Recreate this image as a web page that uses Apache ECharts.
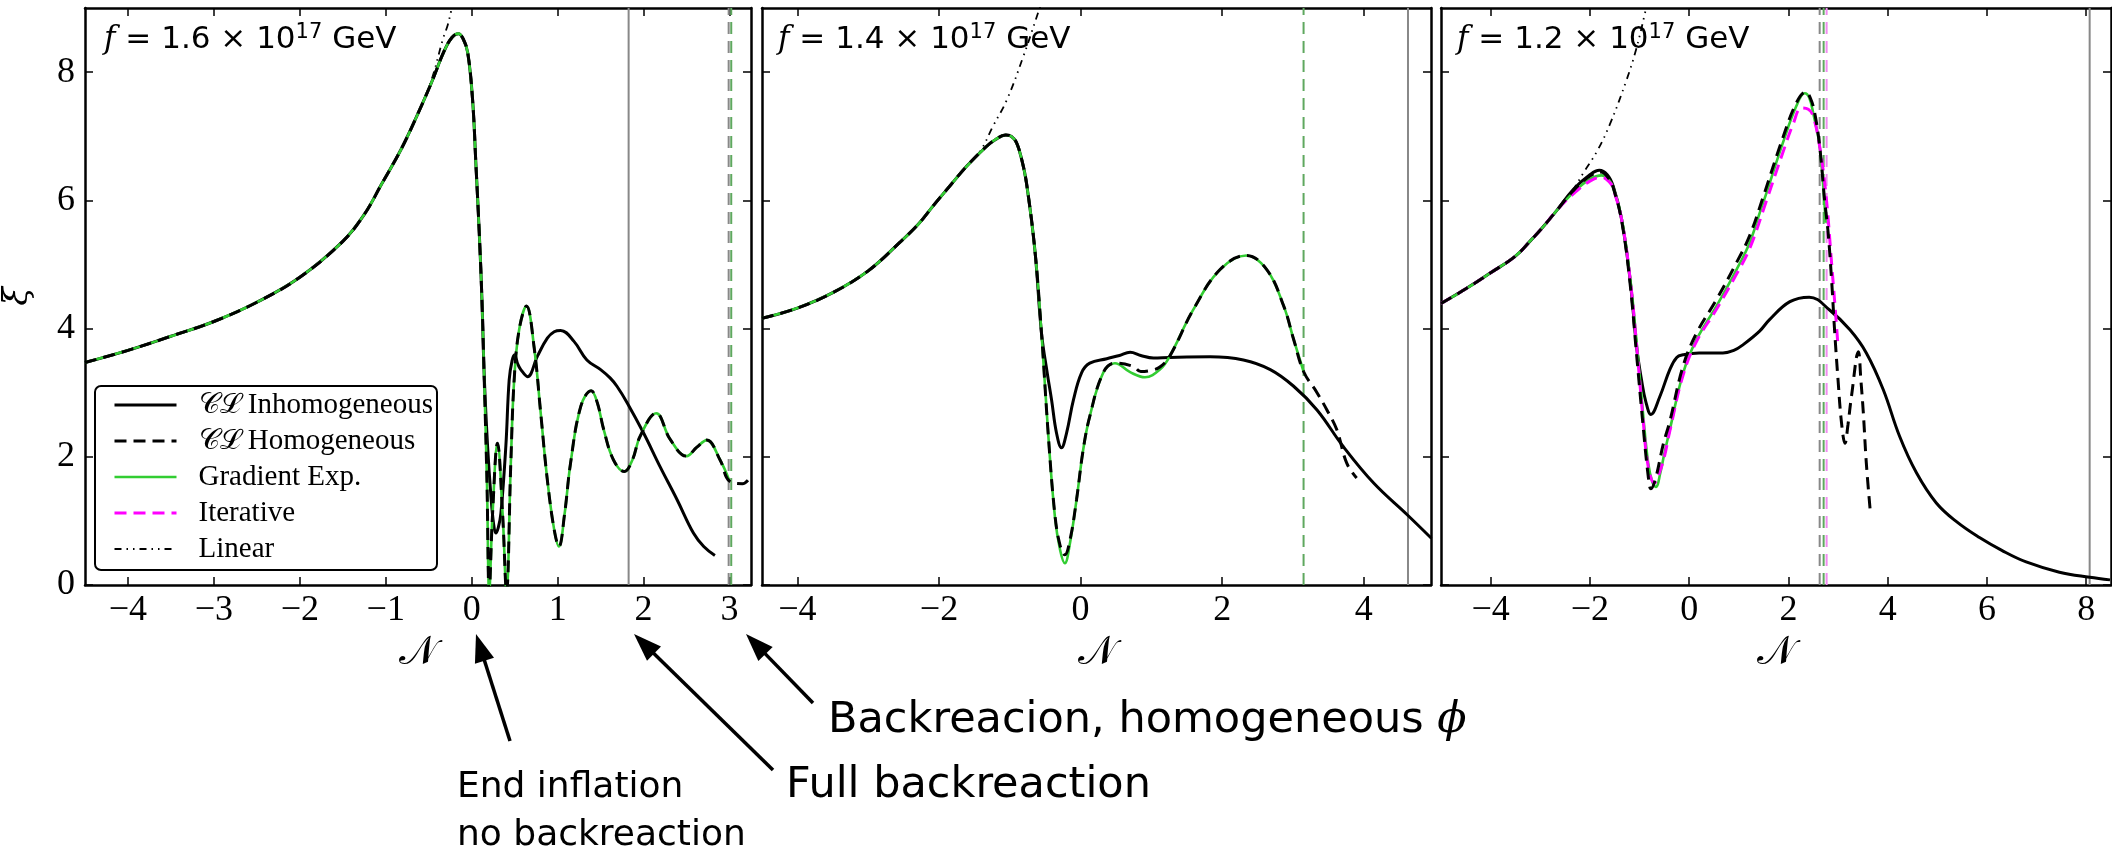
<!DOCTYPE html>
<html><head><meta charset="utf-8">
<script src="https://cdn.jsdelivr.net/npm/echarts@6/dist/echarts.min.js"></script>
<style>html,body{margin:0;padding:0;background:#fff}#c{width:2112px;height:851px}</style>
</head><body><div id="c"></div>
<script>
// ---------- axis setup ----------
const xRanges = [[-4.5, 3.25], [-4.5, 4.95], [-5, 8.5]];
const xTicks = [[-4,-3,-2,-1,0,1,2,3], [-4,-2,0,2,4], [-4,-2,0,2,4,6,8]];
const yTicks = [0,2,4,6,8];
const yRange = [0, 9];
const panelTitles = ['1.6', '1.4', '1.2'];
const seriesNames = ['𝒞ℒ Inhomogeneous', '𝒞ℒ Homogeneous', 'Gradient Exp.', 'Iterative', 'Linear'];

// ---------- panel 1 : f = 1.6e17 GeV ----------
const p1Common = [[-4.5,3.47],[-4.0,3.66],[-3.5,3.88],[-3.0,4.11],[-2.5,4.41],[-2.0,4.80],[-1.5,5.36],[-1.25,5.78],[-1.05,6.25],[-0.82,6.80],[-0.63,7.34],[-0.47,7.83],[-0.32,8.33],[-0.23,8.54],[-0.155,8.60],[-0.1,8.52],[-0.046,8.30],[0.01,7.57],[0.05,6.53],[0.088,5.49],[0.119,4.45]];
const p1InhomTail = [[0.146,3.25],[0.185,2.16],[0.224,1.38],[0.255,0.95],[0.28,0.81],[0.31,0.9],[0.34,1.12],[0.397,2.16],[0.436,3.20],[0.47,3.5],[0.50,3.59],[0.535,3.45],[0.571,3.36],[0.65,3.25],[0.765,3.57],[0.88,3.85],[0.96,3.95],[1.035,3.97],[1.19,3.80],[1.34,3.51],[1.50,3.36],[1.61,3.23],[1.69,3.10],[1.81,2.84],[2.0,2.37],[2.19,1.85],[2.39,1.33],[2.58,0.81],[2.70,0.6],[2.83,0.46]];
const p1GradTail = [[0.146,3.20],[0.177,1.64],[0.204,-0.1],[0.243,1.12],[0.30,2.21],[0.359,1.12],[0.405,-0.1],[0.455,1.90],[0.494,3.20],[0.552,3.98],[0.637,4.35],[0.725,3.72],[0.803,2.68],[0.88,1.64],[0.96,0.86],[1.015,0.60],[1.08,1.1],[1.15,1.90],[1.27,2.79],[1.39,3.03],[1.46,2.85],[1.537,2.42],[1.65,1.95],[1.776,1.77],[1.87,1.95],[1.96,2.32],[2.147,2.68],[2.31,2.27],[2.50,2.01],[2.62,2.15],[2.735,2.26],[2.89,1.95],[3.00,1.62]];
const p1HomogExtra = [[3.15,1.58],[3.25,1.70]];
const p1LinearTail = [[-0.47,7.87],[-0.336,8.51],[-0.278,8.74],[-0.24,8.95],[-0.18,9.3]];
const p1VSolid = [1.826], p1VGray = [2.99], p1VGreen = [3.02], p1VMagenta = [];

// ---------- panel 2 : f = 1.4e17 GeV ----------
const p2Common = [[-4.5,4.16],[-4.0,4.32],[-3.5,4.56],[-3.0,4.90],[-2.557,5.34],[-2.29,5.63],[-2.085,5.91],[-1.85,6.22],[-1.61,6.53],[-1.33,6.84],[-1.2,6.95],[-1.057,7.02],[-0.98,7.0],[-0.905,6.90],[-0.83,6.63],[-0.764,6.27],[-0.646,5.23],[-0.552,3.93]];
const p2InhomTail = [[-0.47,3.3],[-0.41,2.89],[-0.34,2.37],[-0.27,2.14],[-0.198,2.37],[-0.10,2.89],[0.014,3.31],[0.13,3.46],[0.37,3.53],[0.55,3.58],[0.70,3.63],[0.85,3.58],[1.03,3.54],[1.26,3.55],[1.83,3.56],[2.30,3.51],[2.68,3.36],[3.01,3.10],[3.34,2.73],[3.71,2.16],[4.14,1.59],[4.61,1.10],[4.955,0.73]];
const p2GradTail = [[-0.458,2.37],[-0.363,1.07],[-0.29,0.55],[-0.222,0.34],[-0.15,0.65],[-0.057,1.33],[0.037,2.11],[0.13,2.63],[0.32,3.31],[0.485,3.46],[0.7,3.32],[0.91,3.24],[1.12,3.36],[1.26,3.57],[1.59,4.29],[1.97,4.92],[2.34,5.14],[2.63,4.92],[2.87,4.35],[3.01,3.83],[3.15,3.33]];
const p2HomogTail = [[-0.458,2.37],[-0.363,1.1],[-0.29,0.62],[-0.222,0.47],[-0.15,0.7],[-0.057,1.33],[0.037,2.11],[0.13,2.63],[0.32,3.31],[0.485,3.46],[0.745,3.41],[0.85,3.33],[1.0,3.35],[1.12,3.40],[1.26,3.57],[1.59,4.29],[1.97,4.92],[2.34,5.14],[2.63,4.92],[2.87,4.35],[3.01,3.83],[3.15,3.33],[3.34,3.0],[3.48,2.73],[3.62,2.42],[3.76,1.90],[3.90,1.67]];
const p2LinearTail = [[-1.42,6.76],[-1.24,7.15],[-1.04,7.57],[-0.81,8.24],[-0.62,8.86],[-0.52,9.2]];
const p2VSolid = [4.625], p2VGray = [], p2VGreen = [3.15], p2VMagenta = [];

// ---------- panel 3 : f = 1.2e17 GeV ----------
const p3Common = [[-5.0,4.39],[-4.5,4.62],[-4.0,4.87],[-3.5,5.13],[-3.21,5.36],[-2.95,5.58],[-2.67,5.84]];
const p3InhomTail = [[-2.335,6.17],[-2.0,6.40],[-1.81,6.47],[-1.65,6.40],[-1.53,6.22],[-1.36,5.70],[-1.19,4.76],[-1.06,3.72],[-0.96,3.20],[-0.87,2.85],[-0.77,2.66],[-0.59,2.94],[-0.39,3.36],[-0.25,3.55],[-0.12,3.59],[0.2,3.62],[0.68,3.62],[0.9,3.66],[1.09,3.75],[1.42,3.96],[1.62,4.14],[2.03,4.42],[2.42,4.49],[2.83,4.29],[3.24,3.98],[3.57,3.62],[3.91,3.05],[4.24,2.32],[4.58,1.75],[4.98,1.28],[5.4,0.98],[5.85,0.74],[6.3,0.54],[6.79,0.36],[7.46,0.2],[8.07,0.12],[8.48,0.08]];
const p3GradTail = [[-2.335,6.12],[-2.0,6.33],[-1.76,6.39],[-1.6,6.3],[-1.53,6.2],[-1.36,5.72],[-1.19,4.8],[-1.06,3.8],[-0.93,2.68],[-0.825,1.90],[-0.74,1.6],[-0.67,1.53],[-0.58,1.75],[-0.5,2.05],[-0.39,2.42],[-0.12,3.31],[0.15,3.83],[0.55,4.35],[0.955,4.92],[1.22,5.34],[1.42,5.80],[1.56,6.12],[1.89,6.90],[2.16,7.47],[2.33,7.67],[2.42,7.6],[2.50,7.36],[2.63,6.84],[2.75,5.65]];
const p3HomogTail = [[-2.335,6.15],[-2.0,6.38],[-1.78,6.44],[-1.6,6.32],[-1.53,6.2],[-1.36,5.68],[-1.19,4.7],[-1.06,3.6],[-0.93,2.5],[-0.825,1.7],[-0.77,1.50],[-0.68,1.65],[-0.52,2.2],[-0.39,2.55],[-0.12,3.42],[0.15,3.93],[0.55,4.45],[0.955,5.03],[1.22,5.45],[1.49,6.05],[1.89,6.98],[2.16,7.52],[2.35,7.69],[2.44,7.6],[2.53,7.36],[2.63,6.84],[2.73,6.0],[2.80,5.5],[2.87,4.76],[2.93,3.98],[3.0,3.20],[3.07,2.53],[3.14,2.21],[3.2,2.5],[3.27,2.94],[3.41,3.64],[3.46,3.2],[3.51,2.68],[3.57,1.90],[3.65,1.15]];
const p3IterTail = [[-2.335,6.1],[-2.0,6.30],[-1.76,6.36],[-1.6,6.28],[-1.53,6.18],[-1.36,5.7],[-1.19,4.78],[-1.06,3.75],[-0.93,2.6],[-0.825,1.85],[-0.7,1.59],[-0.6,1.75],[-0.5,2.0],[-0.39,2.4],[-0.12,3.28],[0.15,3.8],[0.55,4.3],[0.955,4.85],[1.22,5.25],[1.56,6.0],[1.89,6.75],[2.1,7.2],[2.26,7.44],[2.40,7.42],[2.5,7.31],[2.63,6.84],[2.76,6.06],[2.87,5.02],[2.95,4.24],[3.0,3.72]];
const p3LinearTail = [[-2.335,6.17],[-2.13,6.43],[-1.86,6.76],[-1.60,7.18],[-1.26,7.88],[-1.07,8.35],[-0.89,8.92],[-0.83,9.15]];
const p3VSolid = [8.07], p3VGray = [2.63], p3VGreen = [2.71], p3VMagenta = [2.77];

// ---------- styles ----------
const styleInhom = {color: '#000', width: 3};
const styleHomog = {color: '#000', width: 3, type: [12, 7]};
const styleGrad = {color: '#32cd32', width: 2.6};
const styleIter = {color: '#ff00ff', width: 3, type: [12, 7]};
const styleLinear = {color: '#000', width: 1.8, type: [7, 5, 1.5, 5, 1.5, 5]};
const legendStyles = [styleInhom, styleHomog, styleGrad, styleIter, styleLinear];

// ---------- assemble ----------
const upTo = (arr, xMax) => arr.filter(d => d[0] <= xMax);
const panels = [
  {inhom: p1Common.concat(p1InhomTail), homog: p1Common.concat(p1GradTail, p1HomogExtra), grad: p1Common.concat(p1GradTail), iter: null,
   linear: upTo(p1Common, -0.63).concat(p1LinearTail), vSolid: p1VSolid, vGray: p1VGray, vGreen: p1VGreen, vMag: p1VMagenta},
  {inhom: p2Common.concat(p2InhomTail), homog: p2Common.concat(p2HomogTail), grad: p2Common.concat(p2GradTail), iter: null,
   linear: upTo(p2Common, -1.61).concat(p2LinearTail), vSolid: p2VSolid, vGray: p2VGray, vGreen: p2VGreen, vMag: p2VMagenta},
  {inhom: p3Common.concat(p3InhomTail), homog: p3Common.concat(p3HomogTail), grad: p3Common.concat(p3GradTail), iter: p3Common.concat(p3IterTail),
   linear: p3Common.concat(p3LinearTail), vSolid: p3VSolid, vGray: p3VGray, vGreen: p3VGreen, vMag: p3VMagenta}
];

const gridBoxes = [{left: 82, width: 669}, {left: 762, width: 669}, {left: 1441, width: 670}];
const TOP = 8, HEIGHT = 577;
const frame = {show: true, onZero: false, lineStyle: {color: '#000', width: 2.5}};
const tickStyle = (vals) => ({show: true, inside: true, length: 8, customValues: vals, lineStyle: {color: '#000', width: 1.5}});
const fmt = v => String(v).replace('-', '\u2212');
const tickFont = {fontFamily: 'Liberation Serif', fontSize: 36, color: '#000'};

const grid = [], xAxis = [], yAxis = [], series = [];
panels.forEach((P, p) => {
  grid.push({left: gridBoxes[p].left, width: gridBoxes[p].width, top: TOP, height: HEIGHT, containLabel: false});
  xAxis.push({gridIndex: p, type: 'value', min: xRanges[p][0], max: xRanges[p][1], position: 'bottom',
    axisLine: frame, axisTick: tickStyle(xTicks[p]), splitLine: {show: false},
    axisLabel: Object.assign({show: true, customValues: xTicks[p], formatter: fmt, margin: 8}, tickFont),
    name: '𝒩', nameLocation: 'middle', nameGap: 64,
    nameTextStyle: {fontFamily: 'DejaVu Serif', fontSize: 40, color: '#000', verticalAlign: 'middle'}});
  xAxis.push({gridIndex: p, type: 'value', min: xRanges[p][0], max: xRanges[p][1], position: 'top',
    axisLine: frame, axisTick: tickStyle(xTicks[p]), splitLine: {show: false}, axisLabel: {show: false}});
  yAxis.push(Object.assign({gridIndex: p, type: 'value', min: yRange[0], max: yRange[1], position: 'left',
    axisLine: frame, axisTick: tickStyle(yTicks), splitLine: {show: false},
    axisLabel: Object.assign({show: p === 0, customValues: yTicks, formatter: fmt, margin: 10}, tickFont)},
    p === 0 ? {name: 'ξ', nameLocation: 'middle', nameGap: 50, nameRotate: 90,
      nameTextStyle: {fontFamily: 'DejaVu Serif', fontStyle: 'italic', fontSize: 34, color: '#000'}} : {}));
  yAxis.push({gridIndex: p, type: 'value', min: yRange[0], max: yRange[1], position: 'right',
    axisLine: frame, axisTick: tickStyle(yTicks), splitLine: {show: false}, axisLabel: {show: false}});

  const base = {type: 'line', xAxisIndex: 2 * p, yAxisIndex: 2 * p, symbol: 'none', showSymbol: false,
    animation: false, silent: true, clip: true};
  const vline = (x, style) => Object.assign({}, base, {name: 'v', data: [[x, yRange[0]], [x, yRange[1]]], lineStyle: style, z: 1});
  P.vSolid.forEach(x => series.push(vline(x, {color: '#888', width: 2})));
  P.vGray.forEach(x => series.push(vline(x, {color: '#888', width: 2, type: [12, 7]})));
  P.vGreen.forEach(x => series.push(vline(x, {color: '#5fa85f', width: 2, type: [12, 7]})));
  P.vMag.forEach(x => series.push(vline(x, {color: '#f08cf0', width: 2, type: [12, 7]})));

  const curve = (name, data, style, z) => Object.assign({}, base, {name, data, smooth: 0.4, lineStyle: style, itemStyle: {color: style.color}, z});
  series.push(curve(seriesNames[4], P.linear, styleLinear, 2));
  series.push(curve(seriesNames[0], P.inhom, styleInhom, 3));
  series.push(curve(seriesNames[2], P.grad, styleGrad, 4));
  if (P.iter) series.push(curve(seriesNames[3], P.iter, styleIter, 5));
  series.push(curve(seriesNames[1], P.homog, styleHomog, 6));
});

// ---------- annotations ----------
function arrow(tail, tip) {
  const dx = tip[0] - tail[0], dy = tip[1] - tail[1], L = Math.hypot(dx, dy), ux = dx / L, uy = dy / L;
  const hl = 28, hw = 10, b = [tip[0] - ux * hl, tip[1] - uy * hl];
  return [
    {type: 'line', shape: {x1: tail[0], y1: tail[1], x2: b[0] + ux * 2, y2: b[1] + uy * 2}, style: {stroke: '#000', lineWidth: 3.5}},
    {type: 'polygon', shape: {points: [tip, [b[0] - uy * hw, b[1] + ux * hw], [b[0] + uy * hw, b[1] - ux * hw]]}, style: {fill: '#000'}}
  ];
}
const sans = '"DejaVu Sans"';
const titleX = [104, 778, 1457];
const graphic = [];
titleX.forEach((x, i) => graphic.push({type: 'text', x: x, y: 40, z: 100,
  style: {text: '{f|f} = ' + panelTitles[i] + ' × 10{s|17} GeV', font: '31px ' + sans, fill: '#000', verticalAlign: 'middle',
    lineHeight: 36,
    rich: {f: {fontFamily: 'DejaVu Serif', fontStyle: 'italic', fontSize: 31, lineHeight: 36},
           s: {fontFamily: 'DejaVu Sans', fontSize: 21, lineHeight: 21, verticalAlign: 'top'}}}}));
const annot = [
  {t: 'End inflation', x: 457, y: 788, s: 36},
  {t: 'no backreaction', x: 457, y: 836, s: 36},
  {t: 'Full backreaction', x: 786, y: 786, s: 43},
  {t: 'Backreacion, homogeneous {p|ϕ}', x: 828, y: 721, s: 43}
];
annot.forEach(a => graphic.push({type: 'text', x: a.x, y: a.y,
  style: {text: a.t, font: a.s + 'px ' + sans, fill: '#000', verticalAlign: 'middle',
    rich: {p: {fontFamily: 'DejaVu Serif', fontStyle: 'italic', fontSize: a.s}}}}));
[[[510, 741], [476, 634]], [[773, 770], [634, 634]], [[813, 703], [746, 634]]].forEach(a => arrow(a[0], a[1]).forEach(g => graphic.push(g)));

const chart = echarts.init(document.getElementById('c'), null, {renderer: 'canvas'});
chart.setOption({
  animation: false,
  backgroundColor: '#fff',
  grid, xAxis, yAxis, series, graphic,
  legend: {
    data: seriesNames.map((n, i) => ({name: n, lineStyle: Object.assign({}, legendStyles[i])})),
    orient: 'vertical', left: 95, top: 386,
    itemWidth: 62, itemHeight: 14, itemGap: 6,
    padding: [4, 4, 6, 18],
    itemStyle: {opacity: 0},
    borderColor: '#000', borderWidth: 2, borderRadius: 6, backgroundColor: '#fff',
    textStyle: {fontFamily: 'Liberation Serif', fontSize: 29, color: '#000', lineHeight: 30, padding: [0, 0, 0, 17]},
    selectedMode: false, z: 50
  }
});
</script></body></html>
